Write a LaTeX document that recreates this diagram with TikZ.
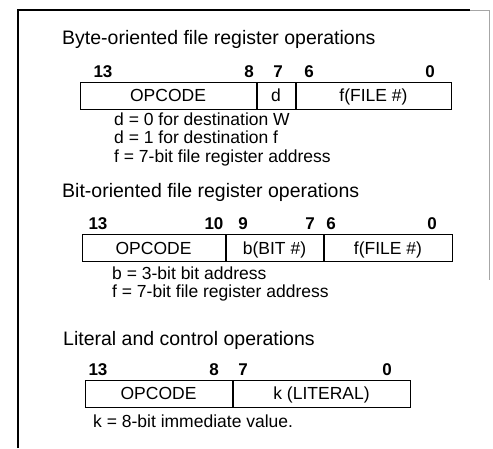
\documentclass[tikz,border=0pt]{standalone}
\usepackage{fontspec}
\setmainfont{Liberation Sans}
\usetikzlibrary{positioning}

\begin{document}
\begin{tikzpicture}[x=1pt, y=-1pt,
    optitle/.style={anchor=base west, inner sep=0pt,
                    font=\fontsize{19.5}{22}\selectfont},
    bitno/.style={anchor=base, inner sep=0pt,
                  font=\fontsize{17}{20}\selectfont\bfseries},
    field/.style={draw, line width=1pt, minimum height=27pt, inner sep=0pt,
                  text height=12.5pt, text depth=0pt,
                  font=\fontsize{17.5}{20}\selectfont},
    note/.style={anchor=base west, inner sep=0pt,
                 font=\fontsize{17.5}{20}\selectfont}
  ]
    \useasboundingbox (0,0) rectangle (493,448);

    % frame
    \draw[line width=1.2pt] (18,448) -- (18,10) -- (470,10);
    \draw[line width=0.6pt, black!35] (470,10) -- (489,10) -- (489,280);

    % byte-oriented
    \node[optitle] (t1) at (62,44) {Byte-oriented file register operations};
    \node[field, minimum width=176pt] (op1) at (168,95.5) {OPCODE};
    \node[field, minimum width=38pt, right=0pt of op1] (d1) {d};
    \node[field, minimum width=155pt, right=0pt of d1] (f1) {f(FILE \#)};
    \node[bitno] (b13a) at (103,77) {13};
    \node[bitno] (b8a)  at (249,77) {8};
    \node[bitno] (b7a)  at (278,77) {7};
    \node[bitno] (b6a)  at (309,77) {6};
    \node[bitno] (b0a)  at (430,77) {0};
    \node[note] (n1a) at (114,125) {d = 0 for destination W};
    \node[note] (n1b) at (114,143.5) {d = 1 for destination f};
    \node[note] (n1c) at (114,162) {f = 7-bit file register address};

    % bit-oriented
    \node[optitle] (t2) at (62,197) {Bit-oriented file register operations};
    \node[field, minimum width=143pt] (op2) at (153.5,248) {OPCODE};
    \node[field, minimum width=97pt, right=0pt of op2] (b2) {b(BIT \#)};
    \node[field, minimum width=128pt, right=0pt of b2] (f2) {f(FILE \#)};
    \node[bitno] (b13b) at (98,229) {13};
    \node[bitno] (b10b) at (214,229) {10};
    \node[bitno] (b9b)  at (243,229) {9};
    \node[bitno] (b7b)  at (310,229) {7};
    \node[bitno] (b6b)  at (331,229) {6};
    \node[bitno] (b0b)  at (432,229) {0};
    \node[note] (n2a) at (112,279) {b = 3-bit bit address};
    \node[note] (n2b) at (112,297) {f = 7-bit file register address};

    % literal and control
    \node[optitle] (t3) at (63,345) {Literal and control operations};
    \node[field, minimum width=147pt] (op3) at (158.5,393.5) {OPCODE};
    \node[field, minimum width=177pt, right=0pt of op3] (k3) {k (LITERAL)};
    \node[bitno] (b13c) at (98,375) {13};
    \node[bitno] (b8c)  at (214,375) {8};
    \node[bitno] (b7c)  at (243,375) {7};
    \node[bitno] (b0c)  at (387,375) {0};
    \node[note] (n3a) at (93,427) {k = 8-bit immediate value.};
  \end{tikzpicture}
\end{document}
